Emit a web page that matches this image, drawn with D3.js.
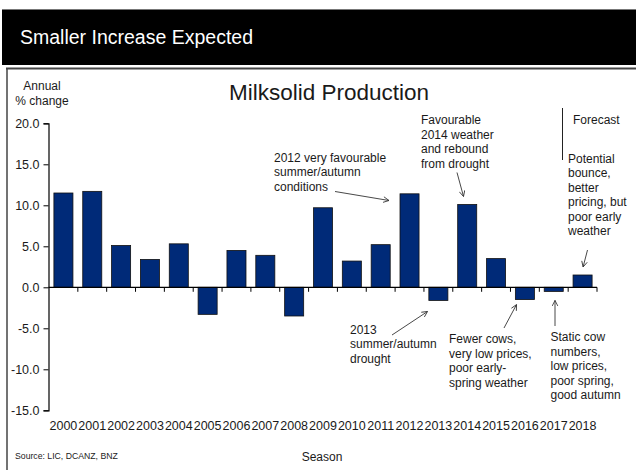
<!DOCTYPE html>
<html>
<head>
<meta charset="utf-8">
<script src="https://cdn.jsdelivr.net/npm/d3@7"></script>
<style>
  html, body { margin: 0; padding: 0; background: #fff; }
  svg { display: block; font-family: "Liberation Sans", Arial, Helvetica, sans-serif; }
</style>
</head>
<body>
<svg id="chart" width="636" height="470"></svg>
<script>
// Milksolid production, annual % change by season
const seasons = ["2000","2001","2002","2003","2004","2005","2006","2007","2008","2009",
                 "2010","2011","2012","2013","2014","2015","2016","2017","2018"];
const pctChange = [11.5, 11.7, 5.1, 3.4, 5.3, -3.3, 4.5, 3.9, -3.5, 9.7,
                   3.2, 5.2, 11.4, -1.6, 10.1, 3.5, -1.5, -0.5, 1.5];
const yTicks = [20, 15, 10, 5, 0, -5, -10, -15];

const headerTitle = "Smaller Increase Expected";
const chartTitle = "Milksolid Production";
const yLabel = ["Annual", "% change"];
const xLabel = "Season";
const sourceNote = "Source: LIC, DCANZ, BNZ";

const svg = d3.select("#chart");
const ink = "#1a1a1a";
const barFill = "#002a78";

// Header bar
svg.append("rect").attr("x", 2).attr("y", 9).attr("width", 634).attr("height", 56)
  .attr("fill", "#000");
svg.append("line").attr("x1", 2).attr("x2", 636).attr("y1", 9.5).attr("y2", 9.5)
  .attr("stroke", "#777").attr("stroke-width", 1);
svg.append("text").attr("x", 20).attr("y", 43.5)
  .attr("fill", "#fff").attr("font-size", 19.5).text(headerTitle);

// Panel frame (top and left rules)
svg.append("line").attr("x1", 6).attr("x2", 636).attr("y1", 68.5).attr("y2", 68.5)
  .attr("stroke", "#444").attr("stroke-width", 2);
svg.append("line").attr("x1", 7).attr("x2", 7).attr("y1", 68).attr("y2", 470)
  .attr("stroke", "#444").attr("stroke-width", 1.5);

// Scales
const x = d3.scaleBand().domain(seasons).range([49, 597])
  .paddingInner(0.34).paddingOuter(0.17);
const y = d3.scaleLinear().domain([-15, 20]).range([410.3, 123.3]);
const step = x.step();
const boundary = i => x.range()[0] + i * step;

// Chart title
svg.append("text").attr("x", 329).attr("y", 99.5).attr("text-anchor", "middle")
  .attr("fill", ink).attr("font-size", 22.5).text(chartTitle);

// Y axis label
svg.append("g").selectAll("text").data(yLabel).join("text")
  .attr("x", 42).attr("y", (d, i) => 89.5 + i * 15)
  .attr("text-anchor", "middle").attr("font-size", 12).attr("fill", ink)
  .text(d => d);

// Bars
svg.append("g").selectAll("rect").data(pctChange).join("rect")
  .attr("x", (d, i) => x(seasons[i]))
  .attr("width", x.bandwidth())
  .attr("y", d => y(Math.max(0, d)))
  .attr("height", d => Math.abs(y(d) - y(0)))
  .attr("fill", barFill)
  .attr("stroke", "#111").attr("stroke-width", 0.8);

// Y axis
const yAxis = d3.axisLeft(y).tickValues(yTicks).tickSize(5).tickPadding(4)
  .tickFormat(d => d3.format(".1f")(d).replace("\u2212", "-"));
const gy = svg.append("g").attr("transform", "translate(48.5,0)").call(yAxis);
gy.select(".domain").attr("stroke", "#000").attr("stroke-width", 1.2);
gy.selectAll(".tick line").attr("stroke", "#000");
gy.selectAll(".tick text").attr("font-size", 12.5).attr("fill", ink)
  .attr("font-family", "Liberation Sans, Arial, sans-serif");

// Zero line with category boundary ticks
const gx = svg.append("g");
gx.append("line").attr("x1", 48.5).attr("x2", 597).attr("y1", y(0)).attr("y2", y(0))
  .attr("stroke", "#000").attr("stroke-width", 1.2);
gx.selectAll("line.tk").data(d3.range(1, seasons.length + 1)).join("line")
  .attr("class", "tk")
  .attr("x1", i => boundary(i)).attr("x2", i => boundary(i))
  .attr("y1", y(0)).attr("y2", y(0) + 4.5)
  .attr("stroke", "#000").attr("stroke-width", 1);

// Season labels along the bottom
svg.append("g").selectAll("text").data(seasons).join("text")
  .attr("x", d => x(d) + x.bandwidth() / 2).attr("y", 430)
  .attr("text-anchor", "middle").attr("font-size", 12.5).attr("fill", ink)
  .text(d => d);

svg.append("text").attr("x", 322).attr("y", 461).attr("text-anchor", "middle")
  .attr("font-size", 12).attr("fill", ink).text(xLabel);
svg.append("text").attr("x", 15).attr("y", 459)
  .attr("font-size", 8.7).attr("fill", ink).text(sourceNote);

// Arrow marker
svg.append("defs").append("marker")
  .attr("id", "arr").attr("viewBox", "0 0 10 10").attr("refX", 9).attr("refY", 5)
  .attr("markerWidth", 7).attr("markerHeight", 7).attr("orient", "auto")
  .attr("markerUnits", "userSpaceOnUse")
  .append("path").attr("d", "M1,1 L9,5 L1,9").attr("fill", "none")
  .attr("stroke", "#333").attr("stroke-width", 1.2);

// Annotations
const cx = s => x(s) + x.bandwidth() / 2;
const notes = [
  { x: 274, y: 161.5, lines: ["2012 very favourable", "summer/autumn", "conditions"] },
  { x: 421, y: 124, lines: ["Favourable", "2014 weather", "and rebound", "from drought"] },
  { x: 573, y: 124, lines: ["Forecast"] },
  { x: 568, y: 162.7, lines: ["Potential", "bounce,", "better", "pricing, but", "poor early", "weather"] },
  { x: 350, y: 333.5, lines: ["2013", "summer/autumn", "drought"] },
  { x: 449, y: 343.3, lines: ["Fewer cows,", "very low prices,", "poor early-", "spring weather"] },
  { x: 550.5, y: 341, lines: ["Static cow", "numbers,", "low prices,", "poor spring,", "good autumn"] }
];
const ng = svg.append("g").attr("font-size", 12).attr("fill", ink);
notes.forEach(n => {
  const t = ng.append("text").attr("x", n.x).attr("y", n.y);
  n.lines.forEach((l, i) => t.append("tspan").attr("x", n.x)
    .attr("dy", i === 0 ? 0 : 14.5).text(l));
});

// Forecast divider
svg.append("line").attr("x1", 562.5).attr("x2", 562.5).attr("y1", 108).attr("y2", 160)
  .attr("stroke", "#222").attr("stroke-width", 1);

const arrows = [
  { x1: 335, y1: 191.5, x2: 389, y2: 200.5 },
  { x1: 457, y1: 172.5, x2: 463.5, y2: y(10.1) - 8 },
  { x1: 587.5, y1: 250, x2: cx("2018") + 0.5, y2: y(1.5) - 8 },
  { x1: 392, y1: 335, x2: 427.5, y2: 311.5 },
  { x1: 504, y1: 328, x2: 516.5, y2: y(-1.5) + 5 },
  { x1: 555, y1: 326, x2: 555, y2: y(-0.5) + 9 }
];
svg.append("g").selectAll("line").data(arrows).join("line")
  .attr("x1", d => d.x1).attr("y1", d => d.y1)
  .attr("x2", d => d.x2).attr("y2", d => d.y2)
  .attr("stroke", "#333").attr("stroke-width", 0.9)
  .attr("marker-end", "url(#arr)");
</script>
</body>
</html>
